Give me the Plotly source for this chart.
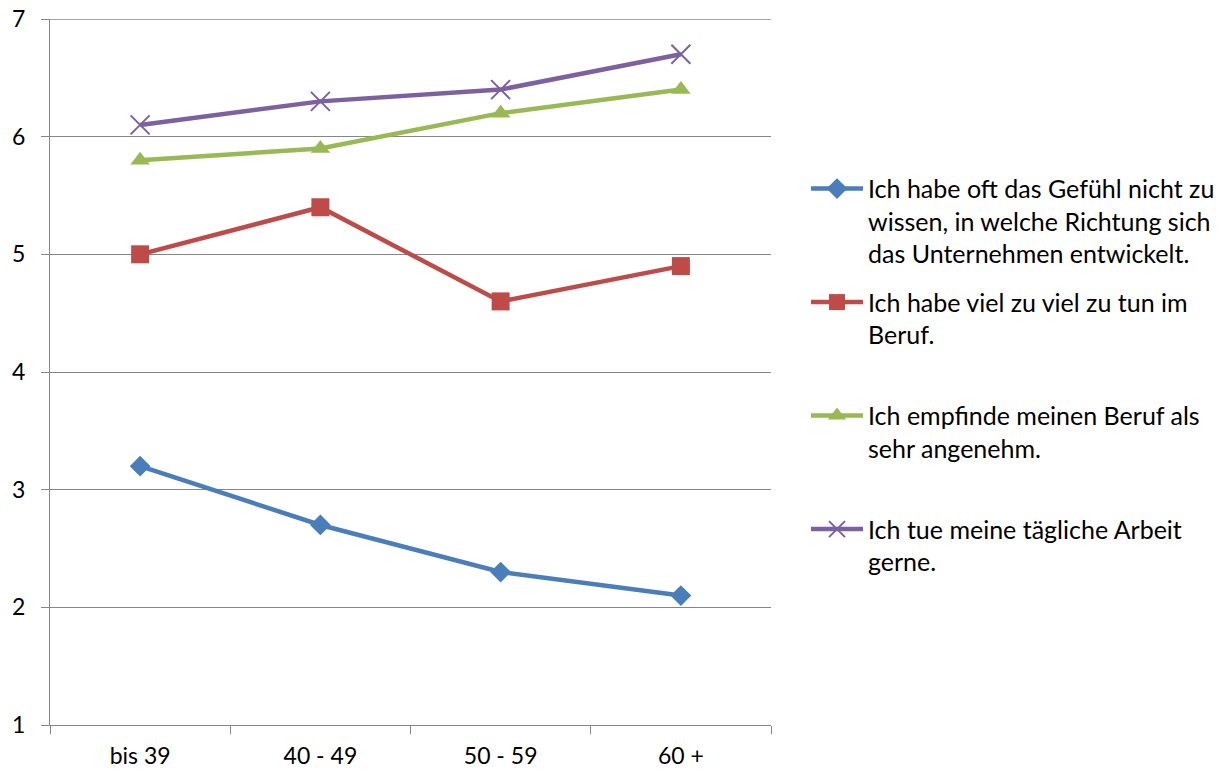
import plotly.graph_objects as go

categories = ["bis 39", "40 - 49", "50 - 59", "60 +"]
series_names = [
    "Ich habe oft das Gefühl nicht zu<br>wissen, in welche Richtung sich<br>das Unternehmen entwickelt.",
    "Ich habe viel zu viel zu tun im<br>Beruf.<br> ",
    "Ich empfinde meinen Beruf als<br>sehr angenehm.<br> ",
    "Ich tue meine tägliche Arbeit<br>gerne.<br> ",
]
richtung = [3.2, 2.7, 2.3, 2.1]
zu_viel = [5.0, 5.4, 4.6, 4.9]
angenehm = [5.8, 5.9, 6.2, 6.4]
gerne = [6.1, 6.3, 6.4, 6.7]
y_ticks = [1, 2, 3, 4, 5, 6, 7]

colors = ["#4A7EBB", "#BE4B48", "#98B954", "#7D60A0"]
symbols = ["diamond", "square", "triangle-up", "x-thin"]
sizes = [16, 18, 17, 19]
values = [richtung, zu_viel, angenehm, gerne]

FONT = "Lato"
GRID = "#868686"

fig = go.Figure()
for i, (name, vals) in enumerate(zip(series_names, values)):
    marker = dict(symbol=symbols[i], size=sizes[i], color=colors[i])
    if symbols[i] == "x-thin":
        marker["line"] = dict(color=colors[i], width=2)
    fig.add_trace(go.Scatter(
        x=categories, y=vals, name=name, mode="lines+markers",
        line=dict(color=colors[i], width=4.5),
        marker=marker, legendgroup=f"g{i}",
    ))

# top gridline (at the maximum tick value), which Plotly omits at the range edge
fig.add_shape(type="line", xref="paper", yref="y", x0=0, x1=1,
              y0=y_ticks[-1], y1=y_ticks[-1],
              line=dict(color=GRID, width=1.3), layer="below")

fig.update_layout(
    width=1227, height=771,
    margin=dict(l=50, r=456, t=19, b=46, autoexpand=False),
    plot_bgcolor="white", paper_bgcolor="white",
    font=dict(family=FONT, size=23, color="black"),
    showlegend=True,
    legend=dict(
        x=(806 - 50) / 721, y=0.792, xanchor="left", yanchor="top",
        font=dict(family=FONT, size=25, color="black"),
        tracegroupgap=13, itemwidth=52, valign="top",
        bgcolor="rgba(0,0,0,0)",
    ),
    xaxis=dict(
        type="category", range=[-0.5, 3.5],
        showgrid=False, showline=True, linecolor=GRID, linewidth=1.3,
        ticks="outside", ticklen=8, tickcolor=GRID, tickwidth=1.3,
        tickson="boundaries", zeroline=False, ticklabelstandoff=10,
        ticklabeloverflow="allow",
        tickfont=dict(family=FONT, size=23),
    ),
    yaxis=dict(
        range=[1, 7], tickvals=y_ticks, showgrid=True, gridcolor=GRID,
        gridwidth=1.3, showline=True, linecolor=GRID, linewidth=1.3,
        ticks="outside", ticklen=8, tickcolor=GRID, tickwidth=1.3,
        zeroline=False, ticklabelstandoff=11, ticklabeloverflow="allow",
        tickfont=dict(family=FONT, size=23),
    ),
)

fig.write_html(
    "out.html",
    config={"displayModeBar": False},
    post_script="document.body.style.margin='0';document.body.style.overflow='hidden';",
)
